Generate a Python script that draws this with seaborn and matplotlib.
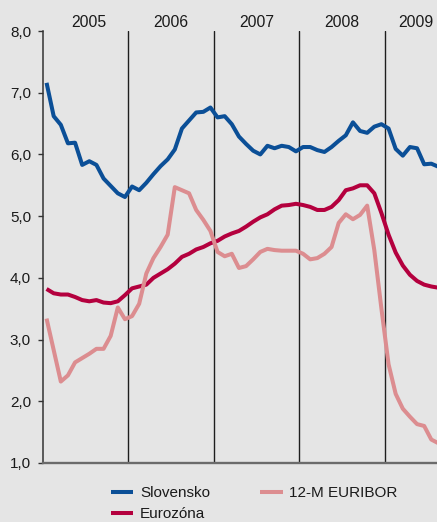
import numpy as np
import pandas as pd
import matplotlib
matplotlib.use("Agg")
import matplotlib.pyplot as plt
import seaborn as sns

# Monthly interest rates, January 2005 onwards (in %)
years = ["2005", "2006", "2007", "2008", "2009"]

slovensko = [7.16, 6.62, 6.48, 6.18, 6.19, 5.83, 5.89, 5.83, 5.61, 5.49, 5.37, 5.31,
             5.48, 5.42, 5.54, 5.68, 5.81, 5.92, 6.08, 6.42, 6.55, 6.68, 6.69, 6.76,
             6.60, 6.62, 6.49, 6.29, 6.17, 6.06, 6.00, 6.14, 6.10, 6.14, 6.12, 6.05,
             6.12, 6.12, 6.07, 6.04, 6.12, 6.22, 6.31, 6.52, 6.38, 6.35, 6.45, 6.49,
             6.42, 6.09, 5.98, 6.12, 6.10, 5.84, 5.85, 5.80]

eurozona = [3.82, 3.75, 3.73, 3.73, 3.69, 3.64, 3.62, 3.64, 3.60, 3.59, 3.62, 3.72,
            3.83, 3.86, 3.89, 4.00, 4.07, 4.14, 4.23, 4.34, 4.39, 4.46, 4.50, 4.56,
            4.60, 4.67, 4.72, 4.76, 4.83, 4.91, 4.98, 5.03, 5.11, 5.17, 5.18, 5.20,
            5.18, 5.15, 5.10, 5.10, 5.15, 5.26, 5.42, 5.45, 5.50, 5.50, 5.37, 5.05,
            4.70, 4.41, 4.20, 4.05, 3.95, 3.89, 3.86, 3.84]

euribor = [3.34, 2.83, 2.32, 2.42, 2.63, 2.70, 2.77, 2.85, 2.85, 3.06, 3.52, 3.33,
           3.38, 3.58, 4.07, 4.32, 4.50, 4.70, 5.47, 5.42, 5.37, 5.10, 4.94, 4.76,
           4.42, 4.35, 4.39, 4.16, 4.19, 4.30, 4.42, 4.47, 4.45, 4.44, 4.44, 4.44,
           4.39, 4.30, 4.32, 4.39, 4.50, 4.89, 5.03, 4.95, 5.02, 5.17, 4.45, 3.50,
           2.60, 2.12, 1.88, 1.75, 1.63, 1.60, 1.38, 1.32]

series_names = ["Slovensko", "Eurozóna", "12-M EURIBOR"]
colors = {"Slovensko": "#0b4f97", "Eurozóna": "#b4003e", "12-M EURIBOR": "#dc8d90"}

months = np.arange(len(slovensko))
df = pd.DataFrame({
    "month": np.concatenate([months, months, months]),
    "value": slovensko + eurozona + euribor,
    "series": np.repeat(series_names, len(months)),
})

bg = "#e5e5e5"
sns.set_theme(style="white")
plt.rcParams["font.family"] = ["Liberation Sans", "DejaVu Sans"]

W, H = 437, 522
fig = plt.figure(figsize=(W / 100, H / 100), dpi=100, facecolor=bg)
ax = fig.add_axes([43 / W, 1 - 463 / H, (437 - 43) / W, (463 - 31) / H])
ax.set_facecolor(bg)

sns.lineplot(data=df, x="month", y="value", hue="series", hue_order=series_names,
             palette=colors, linewidth=2.9, ax=ax, legend=True,
             solid_joinstyle="round", solid_capstyle="butt")

ax.set_xlim(-0.5, 54.8)
ax.set_ylim(1.0, 8.0)
ax.set_xlabel("")
ax.set_ylabel("")

# Year separators
for k in range(1, len(years)):
    ax.axvline(12 * k - 0.5, color="#1e1e1e", linewidth=1.0, zorder=0.5)

# Year labels above the plot
year_pos = [6.0, 17.5, 29.5, 41.5, 51.9]
for yr, xp in zip(years, year_pos):
    ax.annotate(yr, xy=(xp, 1), xycoords=("data", "axes fraction"),
                xytext=(0, 3), textcoords="offset points",
                ha="center", va="baseline", fontsize=11.3, color="#1a1a1a")

# Y axis with comma decimals
yt = np.arange(1, 9)
ax.set_yticks(yt)
ax.set_yticklabels([f"{v:.1f}".replace(".", ",") for v in yt], fontsize=11, color="#1a1a1a")
ax.set_xticks([])
ax.tick_params(axis="y", direction="out", length=3.6, width=1.0, color="#333333", pad=5, left=True)

for side in ["top", "right"]:
    ax.spines[side].set_visible(False)
ax.spines["left"].set_color("#333333")
ax.spines["left"].set_linewidth(1.1)
ax.spines["bottom"].set_color("#6b6b6b")
ax.spines["bottom"].set_linewidth(1.7)

handles, labels = ax.get_legend_handles_labels()
ax.get_legend().remove()
leg = fig.legend(handles, labels, loc="upper left", bbox_to_anchor=(111 / W, 1 - 486 / H),
                 ncol=2, frameon=False, fontsize=11, handlelength=1.45, handletextpad=0.45,
                 columnspacing=3.3, labelspacing=0.45, borderpad=0, borderaxespad=0)
for t in leg.get_texts():
    t.set_color("#1a1a1a")
for h in leg.get_lines():
    h.set_linewidth(2.9)

fig.savefig("out.png", dpi=100, facecolor=bg)
